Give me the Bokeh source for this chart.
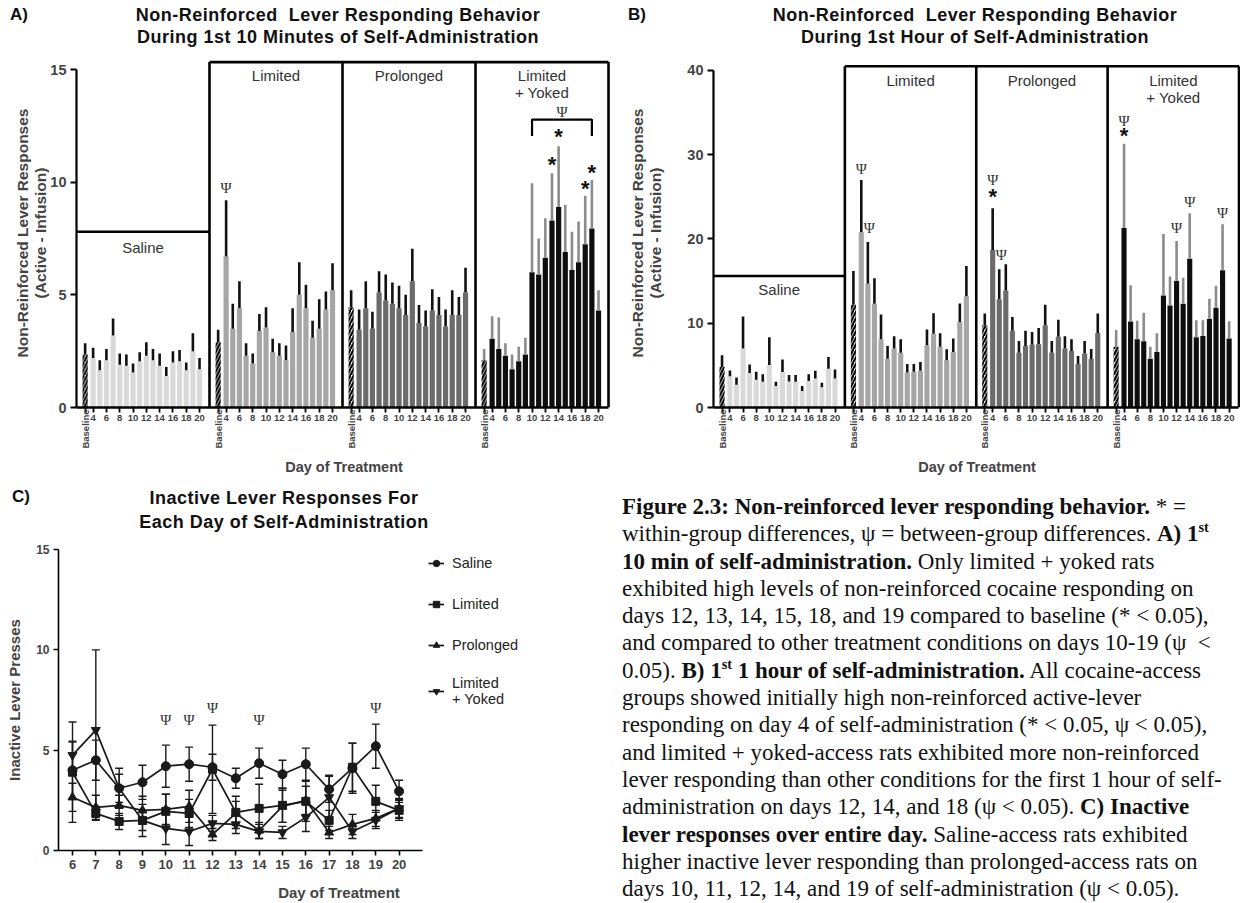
import math
from bokeh.plotting import figure
from bokeh.models import (Range1d, FixedTicker, LinearAxis, ColumnDataSource,
                          Whisker, TeeHead, Legend, LegendItem, Div)
from bokeh.layouts import row, column
from bokeh.embed import file_html
from bokeh.resources import INLINE
from bokeh.core.properties import value

SANS = "Liberation Sans"
SERIF = "Liberation Serif"

# ---------------- data ----------------
DAYS = list(range(4, 21))                       # days 4..20 (after baseline)
TICK_DAYS = [4, 6, 8, 10, 12, 14, 16, 18, 20]
GROUPS = ["Saline", "Limited", "Prolonged", "Limited + Yoked"]

# Panel A: 1st 10 minutes
A_BASE_MEAN = [2.35, 2.9, 4.45, 2.1]
A_BASE_ERR = [0.5, 0.55, 0.75, 0.5]
A_SALINE = [2.2, 1.65, 2.1, 3.2, 1.9, 1.85, 1.55, 2.05, 2.3, 2.1, 1.85, 1.4, 2.0, 2.05, 1.65, 2.5, 1.7]
A_SALINE_ERR = [0.45, 0.45, 0.5, 0.75, 0.5, 0.5, 0.4, 0.4, 0.6, 0.5, 0.55, 0.4, 0.5, 0.5, 0.35, 0.8, 0.5]
A_LIMITED = [6.7, 3.5, 4.4, 2.3, 1.95, 3.4, 3.55, 2.45, 2.3, 2.1, 3.35, 5.0, 4.4, 3.1, 3.5, 4.35, 5.2]
A_LIMITED_ERR = [2.5, 1.1, 1.2, 0.55, 0.45, 0.75, 0.9, 0.6, 0.55, 0.65, 1.05, 1.45, 1.05, 0.75, 1.3, 0.8, 1.2]
A_PROLONGED = [3.45, 4.4, 3.5, 5.1, 4.75, 4.6, 4.4, 4.1, 5.6, 3.75, 3.6, 4.3, 4.1, 3.6, 4.1, 4.1, 5.1]
A_PROLONGED_ERR = [0.9, 1.2, 0.75, 0.95, 1.15, 0.95, 1.0, 0.9, 1.45, 0.8, 0.7, 0.95, 0.8, 0.75, 1.1, 0.8, 1.1]
A_YOKED = [3.05, 2.6, 2.3, 1.7, 2.05, 2.35, 6.0, 5.9, 6.65, 8.3, 8.9, 6.9, 6.1, 6.45, 7.25, 7.95, 4.3]
A_YOKED_ERR = [1.0, 1.4, 0.55, 0.65, 0.65, 0.75, 3.95, 1.6, 1.75, 2.1, 2.7, 2.1, 1.7, 1.8, 2.15, 2.15, 0.9]
A_PSI_GROUP, A_PSI_DAY, A_PSI_Y = [1], [4], [9.75]
A_STAR_GROUP, A_STAR_DAY, A_STAR_Y = [3, 3, 3, 3], [13, 14, 18, 19], [10.8, 12.05, 9.7, 10.45]
A_BRACKET_DAYS = [10, 19]          # yoked, between-group bracket
A_BRACKET_Y = [12.05, 12.78]
A_BRACKET_PSI_Y = 13.1

# Panel B: 1st hour
B_BASE_MEAN = [4.8, 12.2, 9.75, 7.2]
B_BASE_ERR = [1.4, 4.0, 1.4, 2.0]
B_SALINE = [3.7, 2.7, 7.0, 4.1, 3.3, 3.05, 5.05, 2.55, 4.2, 3.1, 3.05, 1.95, 3.15, 3.45, 2.4, 4.6, 3.45]
B_SALINE_ERR = [0.7, 0.85, 3.8, 1.0, 0.95, 0.9, 3.3, 0.5, 1.5, 0.75, 0.8, 0.6, 0.8, 0.9, 0.55, 1.4, 1.05]
B_LIMITED = [20.8, 14.7, 12.3, 8.1, 5.8, 7.0, 6.5, 4.15, 4.25, 4.35, 7.4, 8.75, 7.2, 5.6, 6.6, 10.15, 13.2]
B_LIMITED_ERR = [6.2, 4.95, 3.05, 2.95, 1.5, 1.45, 1.6, 1.0, 0.9, 1.05, 1.85, 2.45, 1.6, 1.3, 1.6, 2.2, 3.6]
B_PROLONGED = [18.7, 12.85, 13.9, 9.1, 6.5, 7.3, 7.45, 7.5, 9.75, 6.5, 8.4, 7.0, 6.7, 5.15, 6.4, 5.75, 8.85]
B_PROLONGED_ERR = [4.95, 3.55, 3.1, 1.65, 1.4, 1.8, 1.5, 1.95, 2.45, 1.4, 2.0, 1.45, 1.4, 0.95, 1.5, 1.2, 2.3]
B_YOKED = [21.3, 10.2, 8.1, 7.85, 5.8, 6.6, 13.3, 12.1, 15.0, 12.3, 17.65, 8.35, 8.5, 10.5, 11.85, 16.3, 8.2]
B_YOKED_ERR = [10.0, 4.3, 2.2, 3.4, 1.4, 2.2, 7.3, 3.45, 4.75, 3.1, 5.4, 2.0, 1.85, 2.4, 2.6, 5.45, 2.05]
B_PSI_GROUP = [1, 1, 2, 2, 3, 3, 3, 3]
B_PSI_DAY = [4, 5.2, 4, 5.3, 4, 12, 14, 19]
B_PSI_Y = [28.3, 21.3, 27.0, 18.1, 34.0, 21.3, 24.4, 23.1]
B_STAR_GROUP, B_STAR_DAY, B_STAR_Y = [2, 3], [4, 4], [25.0, 32.3]

# Panel C: inactive lever presses
C_DAYS = list(range(6, 21))
C_SALINE = [4.0, 4.5, 3.1, 3.4, 4.2, 4.3, 4.15, 3.6, 4.35, 3.8, 4.3, 3.05, 4.1, 5.2, 2.95]
C_SALINE_ERR = [1.4, 1.0, 0.7, 0.85, 1.05, 0.85, 0.65, 0.5, 0.75, 0.7, 0.8, 0.65, 1.25, 1.1, 0.55]
C_LIMITED = [3.9, 1.85, 1.45, 1.5, 1.95, 1.85, 4.05, 1.9, 2.1, 2.25, 2.45, 1.5, 4.15, 2.45, 2.0]
C_LIMITED_ERR = [2.5, 0.35, 0.4, 0.5, 0.85, 0.7, 2.2, 0.8, 1.2, 0.85, 1.0, 0.5, 1.2, 0.8, 0.5]
C_PROLONGED = [2.65, 2.15, 2.25, 2.0, 2.05, 2.2, 0.8, 1.85, 1.0, 2.2, 2.5, 0.9, 1.3, 1.6, 2.1]
C_PROLONGED_ERR = [0.7, 0.6, 0.5, 0.7, 0.75, 0.8, 0.3, 0.6, 0.4, 0.8, 0.7, 0.3, 0.5, 0.4, 0.5]
C_YOKED = [4.75, 6.0, 3.1, 1.5, 1.1, 0.95, 1.35, 1.3, 0.95, 0.9, 1.65, 2.65, 0.95, 1.5, 2.1]
C_YOKED_ERR = [0.7, 4.0, 1.0, 0.8, 0.8, 0.7, 0.4, 0.45, 0.35, 0.3, 0.7, 1.1, 0.35, 0.4, 0.45]
C_PSI_DAY = [10, 11, 12, 14, 19]
C_PSI_Y = [6.5, 6.5, 7.1, 6.5, 7.1]

# ---------------- style ----------------
BAR_COLORS = ["#d9d9d9", "#a6a6a6", "#6b6b6b", "#0e0e0e"]
ERR_COLORS = ["#111111", "#111111", "#111111", "#8c8c8c"]
GW = 200  # units per group (0.1 day units)


def xday(g, d):
    return g * GW + 10 * d


def xbase(g):
    return g * GW + 28


def title_div(letter, title, height, center_x, letter_x, letter_top, title_top, lh):
    html = ('<div style="position:relative;width:620px;height:%dpx;'
            'font-family:\'Liberation Sans\',Arial,sans-serif;font-weight:bold;color:#111;">'
            '<div style="position:absolute;left:%dpx;top:%dpx;font-size:17px;line-height:22px;">%s</div>'
            '<div style="position:absolute;left:%dpx;width:600px;top:%dpx;text-align:center;'
            'font-size:18px;letter-spacing:0.5px;line-height:%dpx;white-space:nowrap;">%s</div></div>'
            % (height, letter_x, letter_top, letter, center_x - 300, title_top, lh, title))
    return Div(text=html, width=620, height=height, margin=0)


def bar_figure(fig_left, frame_w, x_end, y_end, yticks, base_mean, base_err, means, errs,
               saline_top, box_top, glabel_y, ylab_standoff):
    p = figure(width=620, height=428, x_range=Range1d(15, x_end), y_range=Range1d(0, y_end),
               output_backend="svg", toolbar_location=None,
               min_border_left=fig_left, min_border_right=620 - fig_left - frame_w,
               min_border_top=8, min_border_bottom=71)
    p.outline_line_color = None
    p.grid.visible = False
    p.background_fill_color = "white"

    for g in range(4):
        xs = [xday(g, d) for d in DAYS]
        p.vbar(x=xs, top=means[g], bottom=0, width=7.8, fill_color=BAR_COLORS[g], line_color=None)
        p.vbar(x=[xbase(g)], top=[base_mean[g]], bottom=0, width=7.8, fill_color="white",
               line_color=None, hatch_pattern="/", hatch_color="black", hatch_weight=2.2,
               hatch_scale=6.5)
        tops = [m + e for m, e in zip(means[g], errs[g])]
        p.segment(x0=xs, y0=means[g], x1=xs, y1=tops, line_width=2.6, line_color=ERR_COLORS[g])
        p.segment(x0=[xbase(g)], y0=[base_mean[g]], x1=[xbase(g)],
                  y1=[base_mean[g] + base_err[g]], line_width=2.6, line_color=ERR_COLORS[g])

    # group boxes
    b = [15 + GW * g for g in range(5)]
    p.multi_line(xs=[[b[0], b[1]], [b[1], b[4]], [b[1], b[1]], [b[2], b[2]], [b[3], b[3]], [b[4], b[4]]],
                 ys=[[saline_top, saline_top], [box_top, box_top], [0, box_top], [0, box_top],
                     [0, box_top], [0, box_top]],
                 line_color="black", line_width=2.6)

    # group labels
    cx = [g * GW + 115 for g in range(4)]
    p.text(x=[cx[0], cx[1], cx[2], cx[3], cx[3]],
           y=[glabel_y[0], glabel_y[1], glabel_y[1], glabel_y[1], glabel_y[2]],
           text=["Saline", "Limited", "Prolonged", "Limited", "+ Yoked"],
           text_font=value(SANS), text_font_size="15px", text_color="#333333",
           text_align="center", text_baseline="middle")

    # y axis
    p.yaxis.ticker = FixedTicker(ticks=yticks, minor_ticks=[])
    p.yaxis.bounds = (0, yticks[-1])
    p.yaxis.axis_line_width = 2.2
    p.yaxis.major_tick_line_width = 2.2
    p.yaxis.major_tick_out = 6
    p.yaxis.major_tick_in = 0
    p.yaxis.minor_tick_line_color = None
    p.yaxis.major_label_text_font = SANS
    p.yaxis.major_label_text_font_style = "bold"
    p.yaxis.major_label_text_font_size = "14.5px"
    p.yaxis.major_label_standoff = 4
    p.yaxis.axis_label = "Non-Reinforced Lever Responses\n(Active - Infusion)"
    p.yaxis.axis_label_text_font = SANS
    p.yaxis.axis_label_text_font_style = "bold"
    p.yaxis.axis_label_text_font_size = "15.5px"
    p.yaxis.axis_label_text_line_height = 1.1
    p.yaxis.axis_label_standoff = ylab_standoff

    # x axis: day numbers
    ticks = []
    overrides = {}
    for g in range(4):
        ticks.append(xbase(g))
        overrides[xbase(g)] = ""
        for d in TICK_DAYS:
            ticks.append(xday(g, d))
            overrides[xday(g, d)] = str(d)
    p.xaxis.ticker = FixedTicker(ticks=ticks, minor_ticks=[])
    p.xaxis.major_label_overrides = overrides
    p.xaxis.bounds = (15, 815)
    p.xaxis.axis_line_width = 2.6
    p.xaxis.major_tick_line_width = 1.8
    p.xaxis.major_tick_out = 5
    p.xaxis.major_tick_in = 0
    p.xaxis.minor_tick_line_color = None
    p.xaxis.major_label_text_font = SANS
    p.xaxis.major_label_text_font_style = "bold"
    p.xaxis.major_label_text_font_size = "9.5px"
    p.xaxis.major_label_standoff = 2

    # second x axis: vertical "Baseline" labels + axis title
    ax2 = LinearAxis(ticker=FixedTicker(ticks=[xbase(g) for g in range(4)], minor_ticks=[]),
                     major_label_overrides={xbase(g): "Baseline" for g in range(4)},
                     major_label_orientation=math.pi / 2, axis_line_color=None,
                     major_tick_line_color=None, major_tick_out=0, major_tick_in=0,
                     minor_tick_line_color=None, major_label_standoff=-14,
                     major_label_text_font=SANS, major_label_text_font_style="bold",
                     major_label_text_font_size="9.5px",
                     axis_label="Day of Treatment", axis_label_text_font=SANS,
                     axis_label_text_font_style="bold", axis_label_text_font_size="14.5px",
                     axis_label_standoff=7)
    p.add_layout(ax2, "below")
    return p


def add_marks(p, psi_g, psi_d, psi_y, star_g, star_d, star_y):
    p.text(x=[xday(g, d) for g, d in zip(psi_g, psi_d)], y=psi_y, text=["Ψ"] * len(psi_y),
           text_font=value(SERIF), text_font_size="15px", text_color="#333333",
           text_align="center", text_baseline="middle")
    p.text(x=[xday(g, d) for g, d in zip(star_g, star_d)], y=star_y, text=["*"] * len(star_y),
           text_font=value(SANS), text_font_style="bold", text_font_size="22px", text_color="#111111",
           text_align="center", text_baseline="middle")


tA = title_div("A)", "Non-Reinforced&nbsp; Lever Responding Behavior<br>During 1st 10 Minutes of Self-Administration",
               50, 338, 10, 4, 4, 22)
pA = bar_figure(76, 535, 819.5, 15.49, [0, 5, 10, 15], A_BASE_MEAN, A_BASE_ERR,
                [A_SALINE, A_LIMITED, A_PROLONGED, A_YOKED],
                [A_SALINE_ERR, A_LIMITED_ERR, A_PROLONGED_ERR, A_YOKED_ERR],
                7.8, 15.33, [7.1, 14.75, 14.0], -2)
add_marks(pA, A_PSI_GROUP, A_PSI_DAY, A_PSI_Y, A_STAR_GROUP, A_STAR_DAY, A_STAR_Y)
bx0, bx1 = xday(3, A_BRACKET_DAYS[0]), xday(3, A_BRACKET_DAYS[1])
pA.line(x=[bx0, bx0, bx1, bx1], y=[A_BRACKET_Y[0], A_BRACKET_Y[1], A_BRACKET_Y[1], A_BRACKET_Y[0]],
        line_color="black", line_width=2.2)
pA.text(x=[(bx0 + bx1) / 2], y=[A_BRACKET_PSI_Y], text=["Ψ"], text_font=value(SERIF),
        text_font_size="15px", text_color="#333333", text_align="center", text_baseline="middle")

tB = title_div("B)", "Non-Reinforced&nbsp; Lever Responding Behavior<br>During 1st Hour of Self-Administration",
               50, 355, 8, 4, 4, 22)
pB = bar_figure(93, 527, 817.3, 41.42, [0, 10, 20, 30, 40], B_BASE_MEAN, B_BASE_ERR,
                [B_SALINE, B_LIMITED, B_PROLONGED, B_YOKED],
                [B_SALINE_ERR, B_LIMITED_ERR, B_PROLONGED_ERR, B_YOKED_ERR],
                15.6, 40.5, [14.0, 38.8, 36.8], 20)
add_marks(pB, B_PSI_GROUP, B_PSI_DAY, B_PSI_Y, B_STAR_GROUP, B_STAR_DAY, B_STAR_Y)

# ---------------- panel C ----------------
tC = title_div("C)", "Inactive Lever Responses For<br>Each Day of Self-Administration",
               60, 284, 12, 8, 8, 24)
C_FRAME_W = 561
pC = figure(width=620, height=365, x_range=Range1d(5.4, 5.4 + C_FRAME_W / 23.33),
            y_range=Range1d(0, 15), output_backend="svg", toolbar_location=None,
            min_border_left=58, min_border_right=620 - 58 - C_FRAME_W,
            min_border_top=11, min_border_bottom=53)
pC.outline_line_color = None
pC.grid.visible = False

series = [
    ("Saline", C_SALINE, C_SALINE_ERR, "circle", 9),
    ("Limited", C_LIMITED, C_LIMITED_ERR, "square", 8),
    ("Prolonged", C_PROLONGED, C_PROLONGED_ERR, "triangle", 9),
    ("Limited\n+ Yoked", C_YOKED, C_YOKED_ERR, "inverted_triangle", 9),
]
items = []
for name, vals, errs, marker, size in series:
    src = ColumnDataSource(dict(x=C_DAYS, y=vals,
                                lo=[v - e for v, e in zip(vals, errs)],
                                hi=[v + e for v, e in zip(vals, errs)]))
    pC.add_layout(Whisker(base="x", lower="lo", upper="hi", source=src, dimension="height",
                          line_color="#1a1a1a", line_width=1.4,
                          upper_head=TeeHead(size=8, line_color="#1a1a1a", line_width=1.4),
                          lower_head=TeeHead(size=8, line_color="#1a1a1a", line_width=1.4)))
    lr = pC.line("x", "y", source=src, line_color="#1a1a1a", line_width=1.7)
    sr = pC.scatter("x", "y", source=src, marker=marker, size=size, fill_color="#1a1a1a",
                    line_color="#1a1a1a")
    items.append(LegendItem(label=name, renderers=[lr, sr]))

pC.text(x=C_PSI_DAY, y=C_PSI_Y, text=["Ψ"] * len(C_PSI_DAY), text_font=value(SERIF),
        text_font_size="15px", text_color="#333333", text_align="center", text_baseline="middle")

legend = Legend(items=items, location=(370, 143), border_line_color=None, background_fill_alpha=0,
                label_text_font=SANS, label_text_font_size="14.5px", label_text_color="#222222",
                label_text_line_height=1.3,
                glyph_width=16, glyph_height=16, label_standoff=8, spacing=19, padding=0,
                margin=0, label_height=22)
pC.add_layout(legend)

pC.yaxis.ticker = FixedTicker(ticks=[0, 5, 10, 15], minor_ticks=[])
pC.xaxis.ticker = FixedTicker(ticks=C_DAYS, minor_ticks=[])
for ax in (pC.xaxis, pC.yaxis):
    ax.axis_line_width = 1.6
    ax.major_tick_line_width = 1.6
    ax.major_tick_out = 5
    ax.major_tick_in = 0
    ax.minor_tick_line_color = None
    ax.major_label_text_font = SANS
    ax.major_label_text_font_style = "bold"
    ax.axis_label_text_font = SANS
    ax.axis_label_text_font_style = "bold"
    ax.axis_label_text_font_size = "15px"
pC.xaxis.bounds = (5.4, 21.0)
pC.yaxis.major_label_text_font_size = "12px"
pC.xaxis.major_label_text_font_size = "13px"
pC.yaxis.major_label_standoff = 4
pC.xaxis.major_label_standoff = 4
pC.yaxis.axis_label = "Inactive Lever Presses"
pC.yaxis.axis_label_standoff = 10
pC.xaxis.axis_label = "Day of Treatment"
pC.xaxis.axis_label_standoff = 12

# ---------------- caption ----------------
SUP = '<sup style="font-size:62%;line-height:0;vertical-align:super">st</sup>'
CAPTION_LINES = [
    "<b>Figure 2.3: Non-reinforced lever responding behavior.</b> * =",
    "within-group differences, ψ = between-group differences. <b>A) 1" + SUP + "</b>",
    "<b>10 min of self-administration.</b> Only limited + yoked rats",
    "exhibited high levels of non-reinforced cocaine responding on",
    "days 12, 13, 14, 15, 18, and 19 compared to baseline (* &lt; 0.05),",
    "and compared to other treatment conditions on days 10-19 (ψ&nbsp; &lt;",
    "0.05). <b>B) 1" + SUP + " 1 hour of self-administration.</b> All cocaine-access",
    "groups showed initially high non-reinforced active-lever",
    "responding on day 4 of self-administration (* &lt; 0.05, ψ &lt; 0.05),",
    "and limited + yoked-access rats exhibited more non-reinforced",
    "lever responding than other conditions for the first 1 hour of self-",
    "administration on days 12, 14, and 18 (ψ &lt; 0.05). <b>C) Inactive</b>",
    "<b>lever responses over entire day.</b> Saline-access rats exhibited",
    "higher inactive lever responding than prolonged-access rats on",
    "days 10, 11, 12, 14, and 19 of self-administration (ψ &lt; 0.05).",
]
caption_html = ('<div style="font-family:\'Liberation Serif\',serif;font-size:23px;'
                'line-height:27.3px;white-space:nowrap;color:#111;padding-top:15px;'
                'padding-left:2px;">' + "<br>".join(CAPTION_LINES) + "</div>")
caption = Div(text=caption_html, width=620, height=425, margin=0)

layout = column(row(tA, tB), row(pA, pB), row(column(tC, pC), caption))
open("out.html", "w").write(file_html(layout, INLINE))
